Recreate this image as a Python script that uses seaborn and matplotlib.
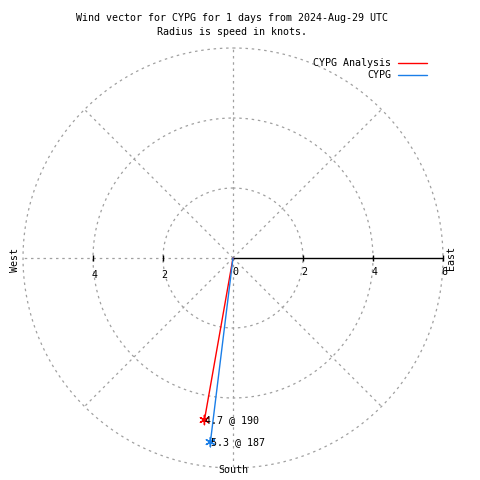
import numpy as np
import pandas as pd
import matplotlib
matplotlib.use("Agg")
import matplotlib.pyplot as plt
from matplotlib.lines import Line2D
import seaborn as sns

# wind vectors: direction (deg, clockwise from north) and speed (knots)
series = ["CYPG Analysis", "CYPG"]
directions = [190, 187]
speeds = [4.7, 5.3]
colors = ["#ff0000", "#1a7ee8"]

rings = [2, 4, 6]
spokes = [0, 45, 90, 135, 180, 225, 270, 315]
axis_ticks = [2, 4, 6]

sns.set_style("white")
plt.rcParams["font.family"] = ["DejaVu Sans Mono"]
plt.rcParams["font.size"] = 7.2
plt.rcParams["text.color"] = "black"

fig = plt.figure(figsize=(4.8, 4.8), dpi=100)
# centre at (233, 258) px, outer radius 210 px
ax = fig.add_axes([23 / 480, 12 / 480, 420 / 480, 420 / 480], projection="polar")
ax.set_theta_zero_location("N")
ax.set_theta_direction(-1)
ax.set_rlim(0, 6)
ax.set_xticks([])
ax.set_yticks([])
ax.grid(False)
ax.spines["polar"].set_visible(False)
ax.patch.set_alpha(0)

dot = dict(color="#a0a0a0", lw=0.9, ls=(0, (2, 3)), clip_on=False)
th = np.linspace(0, 2 * np.pi, 400)
for r in rings:
    ax.plot(th, np.full_like(th, r), **dot)
for s in spokes:
    if s == 90:
        continue
    ax.plot([np.radians(s)] * 2, [0, 6], **dot)

# east axis, solid with ticks
ax.plot([np.radians(90)] * 2, [0, 6], color="black", lw=1, clip_on=False)
for r in axis_ticks:
    for ang, lab_dy in [(90, -14), (270, -17)]:
        if ang == 270 and r == 6:
            continue
        ax.plot([np.radians(ang)], [r], marker="|", color="black",
                markersize=5, mew=1, clip_on=False)
        ax.annotate(str(r), xy=(np.radians(ang), r), xytext=(1, lab_dy * 0.72),
                    textcoords="offset points", ha="center", va="center")
ax.annotate("0", xy=(0, 0), xytext=(1.5, -14 * 0.72), textcoords="offset points",
            ha="center", va="center")

# wind vectors
rows = []
for name, d, v in zip(series, directions, speeds):
    rows.append({"series": name, "theta": np.radians(d), "r": 0.0, "step": 0})
    rows.append({"series": name, "theta": np.radians(d), "r": v, "step": 1})
df = pd.DataFrame(rows)
pal = dict(zip(series, colors))
sns.lineplot(data=df, x="theta", y="r", hue="series", units="series",
             estimator=None, sort=False, palette=pal, lw=1, legend=False, ax=ax)
tips = df[df["step"] == 1]
sns.scatterplot(data=tips, x="theta", y="r", hue="series", palette=pal,
                marker=(6, 2, 0), s=45, linewidth=1, legend=False, ax=ax)
for name, d, v in zip(series, directions, speeds):
    ax.annotate(f"{v} @ {d}", xy=(np.radians(d), v), xytext=(0.5, 0),
                textcoords="offset points", ha="left", va="center")
ax.set_xlabel("")
ax.set_ylabel("")
ax.set_rlim(0, 6)

# compass labels
fig.text(15 / 480, 1 - 260 / 480, "West", rotation=90, ha="center", va="center")
fig.text(451 / 480, 1 - 258 / 480, "East", rotation=90, ha="center", va="center")
fig.text(233 / 480, 1 - 470 / 480, "South", ha="center", va="center")

# title
fig.text(232 / 480, 1 - 18 / 480, "Wind vector for CYPG for 1 days from 2024-Aug-29 UTC",
         ha="center", va="center")
fig.text(232 / 480, 1 - 32 / 480, "Radius is speed in knots.", ha="center", va="center")

# legend
for i, (name, c) in enumerate(zip(series, colors)):
    y = 1 - (63 + 12 * i) / 480
    fig.text(391 / 480, y, name, ha="right", va="center")
    fig.add_artist(Line2D([398 / 480, 427 / 480], [y, y], color=c, lw=1,
                          transform=fig.transFigure))

fig.savefig("out.png", dpi=100)
